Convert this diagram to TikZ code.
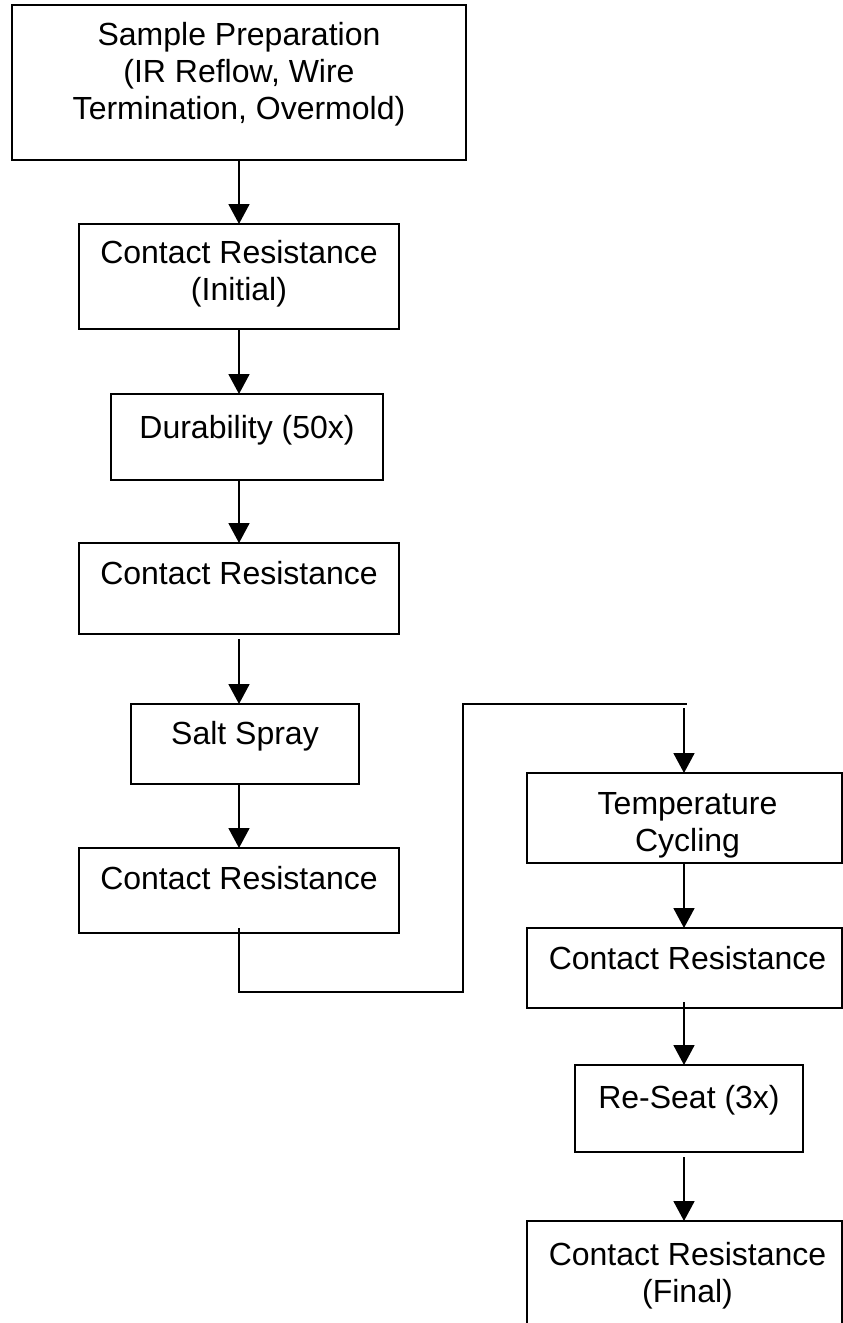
\documentclass[tikz,border=0pt]{standalone}
\usepackage{fontspec}
\setmainfont{Liberation Sans}
\usetikzlibrary{arrows.meta}
\begin{document}
\begin{tikzpicture}[x=1pt,y=-1pt,
  stage/.style={draw, line width=1.8pt, inner sep=0pt, outer sep=0pt, anchor=north west},
  caption/.style={font=\fontsize{32}{37}\selectfont, align=center, inner sep=0pt, anchor=north},
  flow/.style={line width=1.8pt, -{Triangle[length=20pt,width=21pt]}},
  link/.style={line width=1.8pt}]
\clip (0,0) rectangle (843,1323);

% left column
\node[stage, minimum width=454pt, minimum height=155pt] (b1) at (12,5) {};
\node[caption] (t1) at ([yshift=-17pt]b1.north) {Sample Preparation\\(IR Reflow, Wire\\Termination, Overmold)};

\node[stage, minimum width=320pt, minimum height=105pt] (b2) at (79,224) {};
\node[caption] (t2) at ([yshift=-16pt]b2.north) {Contact Resistance\\(Initial)};

\node[stage, minimum width=272pt, minimum height=86pt] (b3) at (111,394) {};
\node[caption] (t3) at ([yshift=-21pt]b3.north) {Durability (50x)};

\node[stage, minimum width=320pt, minimum height=91pt] (b4) at (79,543) {};
\node[caption] (t4) at ([yshift=-18pt]b4.north) {Contact Resistance};

\node[stage, minimum width=228pt, minimum height=80pt] (b5) at (131,704) {};
\node[caption] (t5) at ([yshift=-17pt]b5.north) {Salt Spray};

\node[stage, minimum width=320pt, minimum height=85pt] (b6) at (79,848) {};
\node[caption] (t6) at ([yshift=-18pt]b6.north) {Contact Resistance};

% right column
\node[stage, minimum width=315pt, minimum height=90pt] (b7) at (527,773) {};
\node[caption] (t7) at ([xshift=3pt,yshift=-19pt]b7.north) {Temperature\\Cycling};

\node[stage, minimum width=315pt, minimum height=80pt] (b8) at (527,928) {};
\node[caption] (t8) at ([xshift=3pt,yshift=-18pt]b8.north) {Contact Resistance};

\node[stage, minimum width=228pt, minimum height=87pt] (b9) at (575,1065) {};
\node[caption] (t9) at ([yshift=-20pt]b9.north) {Re-Seat (3x)};

\node[stage, minimum width=315pt, minimum height=130pt] (b10) at (527,1221) {};
\node[caption] (t10) at ([xshift=3pt,yshift=-21pt]b10.north) {Contact Resistance\\(Final)};

% arrows down the left column
\draw[flow] (b1.south) -- (b1.south |- b2.north);
\draw[flow] (b2.south) -- (b2.south |- b3.north);
\draw[flow] (b4.north |- b3.south) -- (b4.north);
\draw[flow] ([yshift=-5pt]b4.south) -- (b4.south |- b5.north);
\draw[flow] (b6.north |- b5.south) -- (b6.north);

% crossover from the left column to the right column
\coordinate (jl) at (239,992);
\coordinate (jr) at (463,992);
\coordinate (tr) at (463,704);
\coordinate (te) at (687,704);
\coordinate (ds) at (684,708);
\draw[link] ([yshift=5pt]b6.south) -- (jl) -- (jr) -- (tr) -- (te);
\draw[flow] (ds) -- (ds |- b7.north);

% arrows down the right column
\draw[flow] (ds |- b7.south) -- (ds |- b8.north);
\draw[flow] ([yshift=6pt]ds |- b8.south) -- (ds |- b9.north);
\draw[flow] ([yshift=-5pt]ds |- b9.south) -- (ds |- b10.north);
\end{tikzpicture}
\end{document}
